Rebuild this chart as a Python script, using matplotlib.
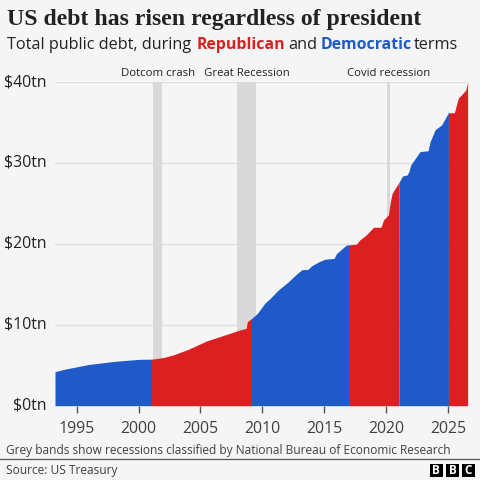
import numpy as np
import matplotlib
matplotlib.use("Agg")
import matplotlib.pyplot as plt
from matplotlib.patches import Rectangle

years = [1993.25, 1994.0, 1995.5, 1996.0, 1997.1, 1998.0, 1999.0, 2000.1, 2001.05, 2001.3,
         2002.0, 2002.8, 2004.0, 2005.5, 2007.0, 2008.2, 2008.7, 2008.8, 2009.15, 2009.6,
         2010.2, 2010.6, 2011.3, 2012.1, 2012.8, 2013.2, 2013.7, 2014.0, 2014.6, 2015.07, 2015.8, 2016.0,
         2016.8, 2017.6, 2017.9, 2018.4, 2019.0, 2019.6, 2019.8, 2020.2, 2020.35, 2020.5,
         2021.05, 2021.35, 2021.7, 2021.85, 2022.0, 2022.75, 2023.4, 2023.56, 2023.97, 2024.5, 2025.04, 2025.53, 2025.7, 2025.85,
         2026.45, 2026.6]
debt = [4.2, 4.5, 4.95, 5.1, 5.3, 5.47, 5.6, 5.73, 5.75, 5.8,
        5.95, 6.27, 6.95, 8.0, 8.75, 9.36, 9.55, 10.4, 10.8, 11.4,
        12.65, 13.2, 14.3, 15.3, 16.3, 16.8, 16.85, 17.3, 17.8, 18.1, 18.2, 18.8,
        19.85, 19.95, 20.5, 21.1, 22.05, 22.05, 22.95, 23.6, 25.2, 26.25,
        27.6, 28.4, 28.5, 28.9, 29.75, 31.4, 31.5, 32.6, 34.1, 34.7, 36.2, 36.2, 37.2, 38.0,
        39.0, 39.95]
term_edges = [1993.25, 2001.05, 2009.05, 2017.05, 2021.05, 2025.05, 2026.6]
term_party = ["D", "R", "D", "R", "D", "R"]
recessions = [(2001.2, 2001.9), (2007.96, 2009.5), (2020.08, 2020.33)]
recession_names = ["Dotcom crash", "Great Recession", "Covid recession"]
recession_label_x = [2001.55, 2008.75, 2020.2]
yticks = [0, 10, 20, 30, 40]
xticks = [1995, 2000, 2005, 2010, 2015, 2020, 2025]

BG = "#f5f5f5"; RED = "#da2020"; BLUE = "#1f5ac8"; INK = "#222222"; GREY = "#404040"
party_col = {"D": BLUE, "R": RED}
W = 480.0
fig = plt.figure(figsize=(4.8, 4.8), dpi=100, facecolor=BG)
sans = "Open Sans"

def ftext(x, y, s, size, **kw):
    kw.setdefault("family", sans); kw.setdefault("color", INK); kw.setdefault("va", "center")
    return fig.text(x / W, 1 - y / W, s, fontsize=size, **kw)

ax = fig.add_axes([55 / W, 1 - 405.7 / W, 413 / W, 323.7 / W], facecolor=BG)
ax.set_xlim(1993.25, 2026.63); ax.set_ylim(0, 40)
for a, b in recessions:
    ax.axvspan(a, b, color="#d9d9d9", lw=0, zorder=1)
ax.set_yticks(yticks); ax.set_yticklabels([f"${v}tn" for v in yticks])
ax.set_xticks(xticks)
ax.grid(axis="y", color="#e0e0e0", lw=1, zorder=0.5); ax.set_axisbelow(True)
for i, p in enumerate(term_party):
    a, b = term_edges[i], term_edges[i + 1]
    xs = np.unique([x for x in years if a <= x <= b] + [a, b])
    ax.fill_between(xs, 0, np.interp(xs, years, debt), color=party_col[p], lw=0, zorder=2)
for s in ax.spines.values():
    s.set_visible(False)
ax.tick_params(axis="y", length=0, pad=5.8, labelsize=11.4, labelcolor=INK)
ax.tick_params(axis="x", length=5, width=1, color="#555555", pad=6, labelsize=11.4, labelcolor=GREY)
for t in ax.get_xticklabels() + ax.get_yticklabels():
    t.set_family(sans)
for t in ax.get_yticklabels():
    t.set_verticalalignment("center")
for name, x in zip(recession_names, recession_label_x):
    ax.annotate(name, (x, 40), xytext=(0, 2), textcoords="offset points", ha="center", va="bottom",
                fontsize=8.2, color=INK, family=sans, annotation_clip=False)

ftext(7, 20, "US debt has risen regardless of president", 17.1, family="Liberation Serif", weight="bold")
for x, s, c, w, sz in [(7, "Total public debt, during", INK, "normal", 11.7), (197, "Republican", RED, "bold", 11.4),
                       (288, "and", INK, "normal", 11.7), (321, "Democratic", BLUE, "bold", 11.4),
                       (414, "terms", INK, "normal", 11.7)]:
    ftext(x, 45, s, sz, color=c, weight=w)
ftext(6, 450.5, "Grey bands show recessions classified by National Bureau of Economic Research", 8.55, color=GREY)
ftext(6, 470.5, "Source: US Treasury", 8.55, color=GREY)
fig.add_artist(plt.Line2D([0, 1], [1 - 459 / W] * 2, color="#555555", lw=0.9))
for x0, s in zip([429.5, 446, 462], "BBC"):
    fig.add_artist(Rectangle((x0 / W, 1 - 477 / W), 13 / W, 13 / W, transform=fig.transFigure, color="black", lw=0))
    ftext(x0 + 6.5, 470.5, s, 8.5, color="white", weight="bold", ha="center")
fig.savefig("out.png", dpi=100, facecolor=BG)
